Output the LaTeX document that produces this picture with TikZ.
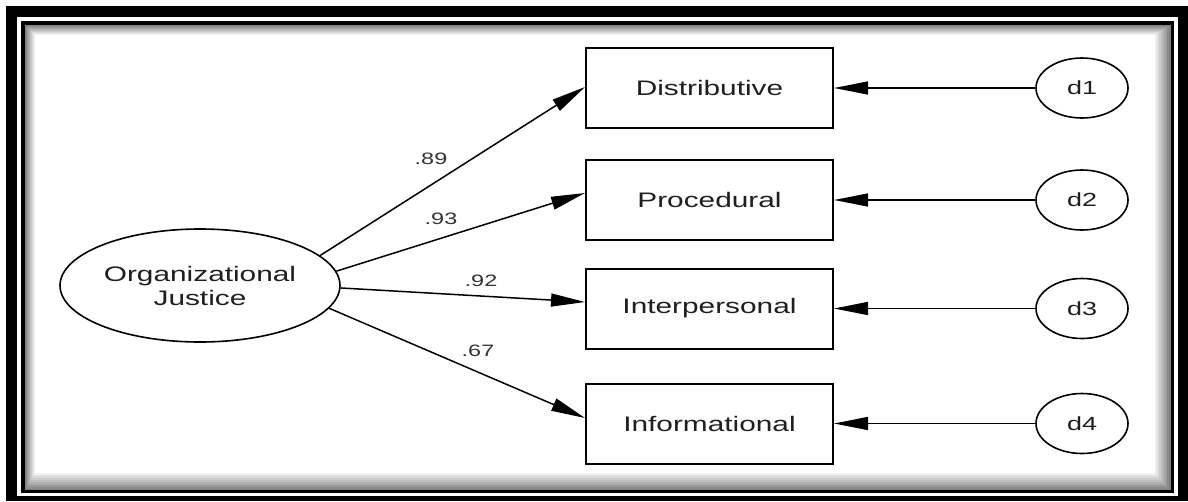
\documentclass[tikz,border=0pt]{standalone}
\usepackage{fontspec}
\setmainfont{Liberation Sans}[FakeStretch=1.42]
\usetikzlibrary{arrows.meta,shapes.geometric}
\begin{document}
\begin{tikzpicture}[x=1pt,y=-1pt,
  obsbox/.style={draw, line width=2pt, fill=white, minimum width=247pt, minimum height=80pt, inner sep=0pt, font=\fontsize{21}{24}\selectfont, text=black!88},
  errnode/.style={ellipse, draw, line width=1.6pt, fill=white, minimum width=92pt, minimum height=60pt, inner sep=0pt, font=\fontsize{19}{22}\selectfont, text=black!88},
  latent/.style={ellipse, draw, line width=1.6pt, fill=white, minimum width=280pt, minimum height=113pt, inner sep=0pt, align=center, font=\fontsize{21}{24}\selectfont, text=black!88},
  semarrow/.style={-{Triangle[length=34pt,width=13pt]}, line width=1.5pt},
  coef/.style={font=\fontsize{16.5}{18}\selectfont, text=black!80, inner sep=0pt}]
\useasboundingbox (0,0) rectangle (1188,501);
% frame
\fill[white] (0,0) rectangle (1188,501);
\fill[black] (6,6) rectangle (1188,501);
\fill[white] (17,17) rectangle (1178,496);
\foreach \i in {9,8,...,0}{
  \pgfmathsetmacro\c{50-5*\i}
  \pgfmathsetmacro\l{25+\i}
  \pgfmathsetmacro\r{1170-1.6*\i}
  \pgfmathsetmacro\b{490-1.8*\i}
  \draw[line width=2.2pt, black!\c] (\l,\l) rectangle (\r,\b);
}
\draw[line width=3.5pt] (23,23) rectangle (1172.5,491.5);
% nodes
\node[latent] (oj) at (200,285.5) {Organizational\\Justice};
\node[obsbox] (b1) at (709.5,88) {Distributive};
\node[obsbox] (b2) at (709.5,200) {Procedural};
\node[obsbox] (b3) at (709.5,308.5) {Interpersonal};
\node[obsbox] (b4) at (709.5,423.5) {Informational};
\node[errnode] (d1) at (1082,88) {d1};
\node[errnode] (d2) at (1082,200) {d2};
\node[errnode] (d3) at (1082,308.5) {d3};
\node[errnode] (d4) at (1082,423.5) {d4};
% paths
\draw[semarrow] (oj.14.9) -- ([yshift=1pt]b1.west);
\draw[semarrow] (oj.6.5) -- ([yshift=7pt]b2.west);
\draw[semarrow] (oj.-1.9) -- ([yshift=6.5pt]b3.west);
\draw[semarrow] (oj.-10.7) -- ([yshift=5.5pt]b4.west);
\draw[semarrow] (d1.west) -- (b1.east);
\draw[semarrow] (d2.west) -- (b2.east);
\draw[semarrow] (d3.west) -- (b3.east);
\draw[semarrow] (d4.west) -- (b4.east);
% coefficients
\node[coef] (c1) at (431,159) {.89};
\node[coef] (c2) at (441,219) {.93};
\node[coef] (c3) at (481,281) {.92};
\node[coef] (c4) at (478,351) {.67};
\end{tikzpicture}
\end{document}
